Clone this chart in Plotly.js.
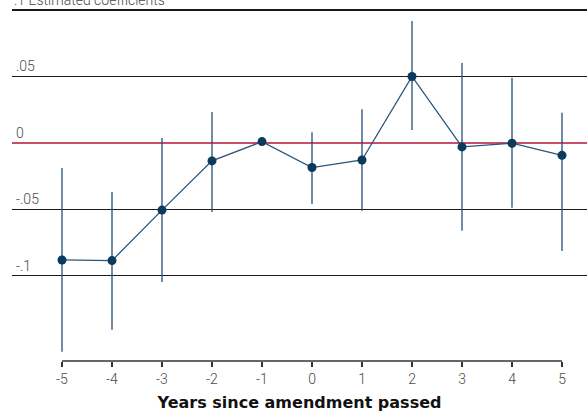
<!DOCTYPE html>
<html>
<head>
<meta charset="utf-8">
<script src="https://cdn.plot.ly/plotly-3.0.1.min.js"></script>
<style>html,body{margin:0;padding:0;background:#fff;}#chart{width:587px;height:412px;}</style>
</head>
<body>
<div id="chart"></div>
<script>
// Data
const years = [-5, -4, -3, -2, -1, 0, 1, 2, 3, 4, 5];
const coef  = [-0.088, -0.0885, -0.0505, -0.0135, 0.001, -0.0185, -0.0128, 0.050, -0.003, -0.0002, -0.0093];
const ciLow = [-0.157, -0.1405, -0.1045, -0.052, 0.001, -0.046, -0.051, 0.0098, -0.066, -0.0487, -0.0812];
const ciHigh= [-0.0188, -0.0368, 0.0038, 0.0233, 0.001, 0.008, 0.0253, 0.0917, 0.0602, 0.049, 0.0228];
const yTickVals = [0.1, 0.05, 0, -0.05, -0.1];
const yTickText = ['', '.05', '0', '-.05', '-.1'];
const yTopLabel = '.1 Estimated coefficients';
const xTickVals = [-5, -4, -3, -2, -1, 0, 1, 2, 3, 4, 5];
const xTickText = ['-5', '-4', '-3', '-2', '-1', '0', '1', '2', '3', '4', '5'];
const xTitle = 'Years since amendment passed';

const errPlus = coef.map((c, i) => ciHigh[i] - c);
const errMinus = coef.map((c, i) => c - ciLow[i]);

const trace = {
  x: years, y: coef, type: 'scatter', mode: 'lines+markers',
  line: {color: '#2b5579', width: 1.3},
  marker: {color: '#0b3a5c', size: 9},
  error_y: {type: 'data', symmetric: false, array: errPlus, arrayminus: errMinus,
            color: '#244e74', thickness: 1.3, width: 0},
  hoverinfo: 'skip'
};

const tickFont = {family: 'Roboto, sans-serif', size: 14, color: '#4a4a4a', weight: 300};

const layout = {
  width: 587, height: 412,
  margin: {l: 12, r: 0, t: 0, b: 51},
  paper_bgcolor: '#fff', plot_bgcolor: '#fff',
  showlegend: false,
  xaxis: {
    range: [-6, 5.5], tickvals: xTickVals, ticktext: xTickText,
    showgrid: false, zeroline: false, showline: false,
    ticks: 'outside', ticklen: 5, tickwidth: 1.3, tickcolor: '#333',
    tickfont: tickFont,
    title: {text: xTitle, standoff: 12,
            font: {family: 'DejaVu Sans, sans-serif', size: 16, color: '#111', weight: 700}}
  },
  yaxis: {
    range: [-0.164, 0.10752], tickvals: yTickVals, ticktext: yTickText,
    showgrid: true, gridcolor: '#1a1a1a', gridwidth: 1.1,
    zeroline: true, zerolinecolor: '#c4506a', zerolinewidth: 2,
    showline: false, ticks: '',
    ticklabelposition: 'inside', ticklabelshift: -10, ticklabelstandoff: 1,
    tickfont: tickFont
  },
  annotations: [{
    text: yTopLabel, xref: 'paper', yref: 'y', x: 0, y: 0.1,
    xanchor: 'left', yanchor: 'bottom', xshift: 0, yshift: 0,
    showarrow: false, font: tickFont
  }],
  shapes: [{
    type: 'line', xref: 'x', yref: 'paper', x0: -5, x1: 5, y0: 0, y1: 0,
    line: {color: '#333', width: 1.5}
  }]
};

Plotly.newPlot('chart', [trace], layout, {displayModeBar: false, staticPlot: true});
</script>
</body>
</html>
